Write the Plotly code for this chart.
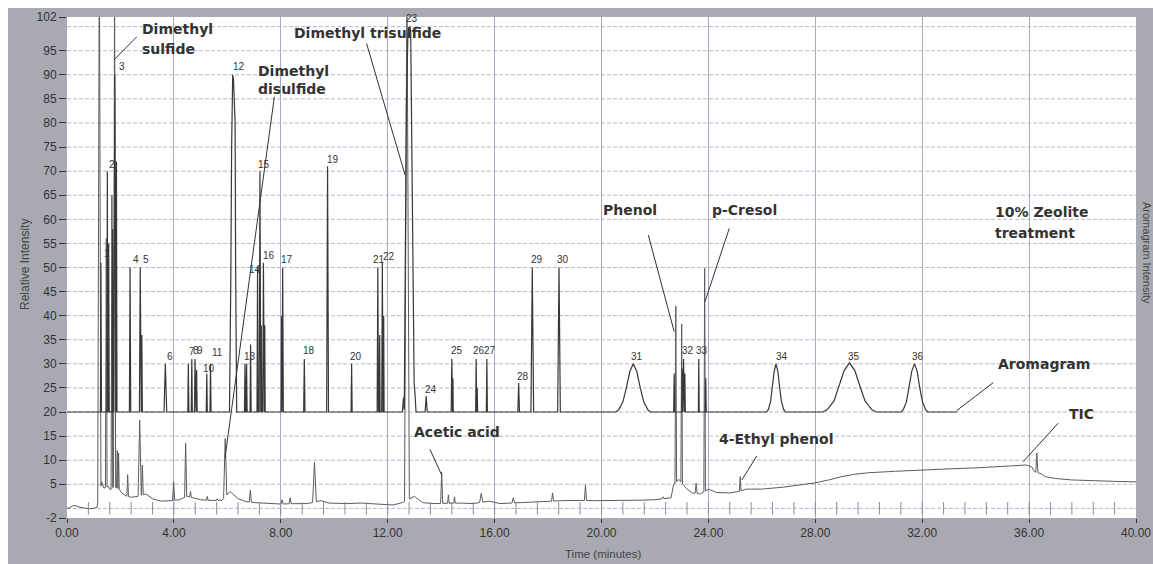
import numpy as np
import plotly.graph_objects as go

# ---------------- data ----------------
# Aromagram (offset baseline 20): narrow peaks, time (min), apex height, half base width (min)
AROM_BASE = 20
arom_time = [1.27, 1.51, 1.56, 1.71, 1.79, 1.85, 2.36, 2.74, 2.80, 3.68,
             4.54, 4.67, 4.79, 4.85, 5.23, 5.37, 6.66, 6.72, 6.87, 7.13,
             7.22, 7.27, 7.35, 7.40, 8.03, 8.07, 8.88, 9.75, 10.65, 11.63,
             11.70, 11.80, 11.85, 13.44, 14.40, 14.44, 15.31, 15.35, 15.71, 16.90,
             17.41, 18.41, 22.72, 23.02, 23.07, 23.12, 23.64, 23.90]
arom_height = [51, 70, 55, 58, 90, 72, 50, 50, 36, 30,
               30, 31, 31, 28.7, 28, 30, 30, 30, 34, 50,
               70, 38, 51, 38, 40, 50, 31, 71, 30, 50,
               36, 51, 40, 23.3, 31, 27, 31, 25, 31, 26,
               50, 50, 28, 29, 31, 28, 31, 27]
arom_halfw = [0.02, 0.02, 0.02, 0.02, 0.04, 0.02, 0.025, 0.03, 0.02, 0.05,
              0.02, 0.02, 0.02, 0.02, 0.02, 0.02, 0.02, 0.02, 0.02, 0.02,
              0.03, 0.015, 0.025, 0.015, 0.015, 0.025, 0.025, 0.035, 0.02, 0.025,
              0.015, 0.025, 0.015, 0.04, 0.025, 0.012, 0.02, 0.015, 0.02, 0.03,
              0.05, 0.05, 0.02, 0.015, 0.025, 0.015, 0.015, 0.02]
# Broad / composite aromagram peaks, read as outlines
peak12_t = [6.08, 6.10, 6.13, 6.16, 6.20, 6.23, 6.27, 6.29, 6.31, 6.33, 6.35]
peak12_y = [20, 28, 48, 75, 90, 89, 81, 80, 50, 30, 20]
peak23_t = [12.55, 12.59, 12.62, 12.64, 12.66, 12.70, 12.76, 12.82, 12.86, 12.90, 12.95, 12.99, 13.03, 13.06]
peak23_y = [20, 23, 20.5, 40, 70, 84, 99, 100, 99, 76, 46, 26, 23, 20]
peak31_t = [20.54, 20.64, 20.80, 20.93, 21.06, 21.19, 21.32, 21.45, 21.58, 21.74, 21.84]
peak31_y = [20, 20.4, 22.1, 25, 28.4, 30, 28.4, 25, 22.1, 20.4, 20]
peak34_t = [26.18, 26.25, 26.33, 26.39, 26.46, 26.53, 26.60, 26.67, 26.73, 26.81, 26.88]
peak34_y = [20, 20.6, 22.3, 24.9, 28.4, 30, 28.4, 24.9, 22.3, 20.6, 20]
peak35_t = [28.28, 28.45, 28.70, 28.88, 29.08, 29.28, 29.48, 29.68, 29.86, 30.11, 30.28]
peak35_y = [20, 20.5, 22.3, 25.2, 28.6, 30.2, 28.6, 25.2, 22.3, 20.5, 20]
peak36_t = [31.21, 31.29, 31.41, 31.51, 31.61, 31.71, 31.81, 31.91, 32.01, 32.13, 32.21]
peak36_y = [20, 20.5, 22.1, 25, 28.5, 30, 28.5, 25, 22.1, 20.5, 20]
AROM_END = 33.3

# TIC baseline (time, relative intensity)
tic_base_t = [0.00, 0.10, 0.20, 0.30, 0.45, 0.60, 0.80, 1.00, 1.12, 1.30, 1.38, 1.55, 1.62,
              1.75, 1.95, 2.05, 2.20, 2.40, 2.60, 2.95, 3.20, 3.50, 3.80, 4.20, 4.50, 4.70,
              5.00, 5.40, 5.80, 6.10, 6.40, 6.70, 7.00, 7.60, 8.00, 8.60, 9.00, 9.50, 9.80,
              10.50, 11.00, 11.50, 12.20, 12.55, 13.00, 13.30, 13.70, 14.70, 15.20, 15.80,
              16.20, 17.00, 17.50, 18.50, 19.00, 19.70, 20.50, 21.50, 22.00, 22.60, 22.70,
              22.90, 23.20, 23.40, 23.70, 24.00, 24.30, 24.80, 25.10, 25.40, 26.00, 26.80,
              27.50, 28.00, 28.50, 29.00, 29.50, 30.00, 31.00, 32.00, 33.00, 34.00, 35.00,
              35.90, 36.10, 36.20, 36.45, 36.60, 37.00, 37.60, 38.40, 39.20, 40.00]
tic_base_v = [0.0, 0.1, 0.5, 0.6, 0.3, 0.1, -0.1, 0.0, 0.2, 5.5, 4.2, 4.6, 3.8,
              4.5, 4.0, 3.2, 2.6, 2.3, 2.4, 3.0, 2.0, 1.5, 1.5, 1.8, 2.5, 2.2,
              1.8, 1.6, 1.7, 3.5, 2.0, 1.4, 1.2, 1.0, 0.9, 1.0, 1.0, 1.6, 1.1,
              1.0, 1.1, 0.9, 0.7, 1.2, 2.5, 1.2, 1.0, 1.1, 1.0, 1.5,
              1.0, 1.2, 1.3, 1.6, 1.7, 1.6, 1.6, 1.7, 1.8, 2.2, 5.0,
              6.0, 4.0, 3.2, 3.0, 4.0, 3.3, 3.2, 3.4, 4.0, 4.0, 4.4,
              4.9, 5.3, 5.9, 6.6, 7.1, 7.4, 7.7, 8.0, 8.2, 8.4, 8.7,
              9.0, 8.6, 7.6, 7.2, 6.6, 6.2, 5.9, 5.7, 5.6, 5.5]
# TIC peaks: time, apex, half base width
tic_peak_t = [1.21, 1.47, 1.68, 1.78, 1.88, 1.93, 2.27, 2.72, 2.82, 3.99, 4.44, 4.62,
              5.25, 5.62, 5.92, 6.86, 8.05, 8.35, 9.26, 12.72, 14.02, 14.27, 14.50,
              15.50, 16.70, 18.17, 19.40, 22.30, 22.78, 23.00, 23.54, 23.86, 25.19, 36.29]
tic_peak_h = [118, 56, 65, 112, 12, 11.5, 7, 18.3, 9, 5.5, 13.5, 3.5,
              2.5, 2.0, 14.5, 3.8, 1.8, 2.2, 9.5, 112, 7.5, 2.8, 2.4,
              3.1, 2.2, 3.2, 4.8, 2.4, 42, 38.3, 5.2, 49.8, 6.6, 11.5]
tic_peak_w = [0.06, 0.03, 0.03, 0.04, 0.025, 0.025, 0.03, 0.06, 0.035, 0.04, 0.04, 0.03,
              0.03, 0.03, 0.06, 0.04, 0.04, 0.04, 0.07, 0.09, 0.04, 0.03, 0.03,
              0.06, 0.05, 0.04, 0.04, 0.04, 0.03, 0.03, 0.04, 0.03, 0.03, 0.04]

# peak number labels
label_text = [str(i) for i in range(1, 37)]
label_t = [1.48, 1.70, 2.05, 2.58, 2.96, 3.85, 4.66, 4.83, 4.98, 5.33, 5.62, 6.45,
           6.85, 7.05, 7.38, 7.57, 8.22, 9.07, 9.94, 10.82, 11.68, 12.03, 12.90, 13.61,
           14.58, 15.43, 15.83, 17.08, 17.58, 18.57, 21.32, 23.25, 23.75, 26.75, 29.46, 31.86]
label_v = [52.9, 71.3, 91.7, 51.6, 51.6, 31.6, 32.5, 32.7, 32.7, 29.0, 32.4, 91.7,
           31.6, 49.5, 71.3, 52.4, 51.6, 32.7, 72.5, 31.6, 51.6, 52.3, 101.6, 24.6,
           32.7, 32.7, 32.7, 27.3, 51.6, 51.6, 31.6, 32.7, 32.7, 31.6, 31.6, 31.6]

# compound callouts: text lines (left x, y), pointer (from -> to)
callout_text = ["Dimethyl", "sulfide", "Dimethyl", "disulfide", "Dimethyl trisulfide",
                "Phenol", "p-Cresol", "10% Zeolite", "treatment", "Aromagram", "TIC",
                "Acetic acid", "4-Ethyl phenol"]
callout_t = [2.73, 2.73, 7.07, 7.07, 8.41, 19.98, 24.06, 34.64, 34.64, 34.75, 37.41, 12.92, 24.31]
callout_v = [99.45, 95.3, 90.8, 87.05, 98.7, 61.9, 61.9, 61.6, 57.2, 29.9, 19.6, 15.9, 14.4]
pointer_t0 = [2.61, 7.76, 11.21, 21.75, 24.78, 34.66, 37.09, 13.58, 25.81]
pointer_v0 = [97.9, 85.45, 96.5, 56.75, 58.1, 26.1, 17.7, 12.26, 10.87]
pointer_t1 = [1.76, 5.91, 12.65, 22.72, 23.87, 33.29, 35.78, 14.02, 25.25]
pointer_v1 = [93.1, 10.45, 69.2, 36.7, 42.9, 20.3, 9.7, 6.93, 5.89]

x_ticks = [0, 4, 8, 12, 16, 20, 24, 28, 32, 36, 40]
y_ticks = [-2, 5, 10, 15, 20, 25, 30, 35, 40, 45, 50, 55, 60, 65, 70, 75, 80, 85, 90, 95, 102]
y_grid = list(range(0, 101, 5))
minor_tick_t = [round(0.8 * k, 2) for k in range(1, 50)]

# ---------------- build polylines ----------------
pts = [(0.0, AROM_BASE), (AROM_END, AROM_BASE)]
for t, h, w in zip(arom_time, arom_height, arom_halfw):
    pts += [(t - w, AROM_BASE), (t, h), (t + w, AROM_BASE)]
for pt, py in [(peak12_t, peak12_y), (peak23_t, peak23_y), (peak31_t, peak31_y),
               (peak34_t, peak34_y), (peak35_t, peak35_y), (peak36_t, peak36_y)]:
    pts += list(zip(pt, py))
pts.sort(key=lambda p: p[0])
arom_x = [p[0] for p in pts]
arom_y = [p[1] for p in pts]

windows = [(t - w, t + w) for t, w in zip(tic_peak_t, tic_peak_w)]
tpts = [(t, v) for t, v in zip(tic_base_t, tic_base_v)
        if not any(a <= t <= b for a, b in windows)]
for t, h, w in zip(tic_peak_t, tic_peak_h, tic_peak_w):
    tpts += [(t - w, float(np.interp(t - w, tic_base_t, tic_base_v))), (t, h),
             (t + w, float(np.interp(t + w, tic_base_t, tic_base_v)))]
tpts.sort(key=lambda p: p[0])
tic_x = [p[0] for p in tpts]
tic_y = [p[1] for p in tpts]

# ---------------- figure ----------------
fig = go.Figure()
fig.add_trace(go.Scatter(x=tic_x, y=tic_y, mode="lines",
                         line=dict(color="#5c5c5c", width=1), hoverinfo="skip"))
fig.add_trace(go.Scatter(x=arom_x, y=arom_y, mode="lines",
                         line=dict(color="#383838", width=1.2), hoverinfo="skip"))
fig.add_trace(go.Scatter(x=minor_tick_t, y=[0] * len(minor_tick_t), mode="markers",
                         marker=dict(symbol="line-ns", size=9,
                                     line=dict(color="#8a8aa2", width=1)),
                         hoverinfo="skip"))

shapes = []
for v in y_grid:
    shapes.append(dict(type="line", xref="x", yref="y", x0=0, x1=40, y0=v, y1=v,
                       layer="below", line=dict(color="#b6b6d2", width=1, dash="4px,2px")))
GRAY = "#a9a9b1"
fx0, fx1 = -59 / 1069, 1086 / 1069
fy0, fy1 = -46 / 501, 510 / 501
for x0, x1, y0, y1 in [(fx0, 0, fy0, fy1), (1, fx1, fy0, fy1), (0, 1, 1, fy1), (0, 1, fy0, 0)]:
    shapes.append(dict(type="rect", xref="paper", yref="paper", x0=x0, x1=x1, y0=y0, y1=y1,
                       layer="below", fillcolor=GRAY, line=dict(width=0)))
for a, b, c, d in zip(pointer_t0, pointer_v0, pointer_t1, pointer_v1):
    shapes.append(dict(type="line", xref="x", yref="y", x0=a, y0=b, x1=c, y1=d,
                       line=dict(color="#333333", width=1)))

annotations = []
for txt, t, v in zip(label_text, label_t, label_v):
    annotations.append(dict(x=t, y=v, xref="x", yref="y", text=txt, showarrow=False,
                            xanchor="center", yanchor="middle",
                            font=dict(family="Liberation Sans, Arial", size=10, color="#333333")))
for txt, t, v in zip(callout_text, callout_t, callout_v):
    annotations.append(dict(x=t, y=v, xref="x", yref="y", text="<b>" + txt + "</b>",
                            showarrow=False, xanchor="left", yanchor="middle",
                            font=dict(family="DejaVu Sans", size=14, color="#333333")))
axis_font = dict(family="Liberation Sans, Arial", size=12, color="#444444")
annotations.append(dict(x=-42 / 1069, y=253 / 501, xref="paper", yref="paper",
                        xanchor="center", yanchor="middle",
                        text="Relative Intensity", textangle=-90, showarrow=False,
                        font=axis_font))
annotations.append(dict(x=535.7 / 1069, y=-36 / 501, xref="paper", yref="paper",
                        xanchor="center", yanchor="middle",
                        text="Time (minutes)", showarrow=False,
                        font=dict(family="Liberation Sans, Arial", size=11.5, color="#444444")))
annotations.append(dict(x=1080 / 1069, y=265 / 501, xref="paper", yref="paper",
                        xanchor="center", yanchor="middle",
                        text="Aromagram Intensity", textangle=90, showarrow=False,
                        font=dict(family="Liberation Sans, Arial", size=11, color="#444444")))

fig.update_layout(
    width=1153, height=564,
    margin=dict(l=67, r=17, t=17, b=46, autoexpand=False),
    paper_bgcolor="white", plot_bgcolor="white",
    showlegend=False, hovermode=False,
    shapes=shapes, annotations=annotations,
    xaxis=dict(range=[0, 40], tickvals=x_ticks, ticktext=[f"{v:.2f}" for v in x_ticks],
               showgrid=True, gridcolor="#a9a9c2", gridwidth=1, zeroline=False,
               automargin=False,
               ticks="outside", ticklen=4, tickcolor="#333333", showline=False,
               tickfont=dict(family="Liberation Sans, Arial", size=12, color="#333333")),
    yaxis=dict(range=[-2, 102], tickvals=y_ticks, ticktext=[str(v) for v in y_ticks],
               showgrid=False, zeroline=False, ticks="outside", ticklen=7,
               automargin=False,
               tickcolor="#333333", showline=False,
               tickfont=dict(family="Liberation Sans, Arial", size=12, color="#333333")),
)

fig.write_html("out.html")
